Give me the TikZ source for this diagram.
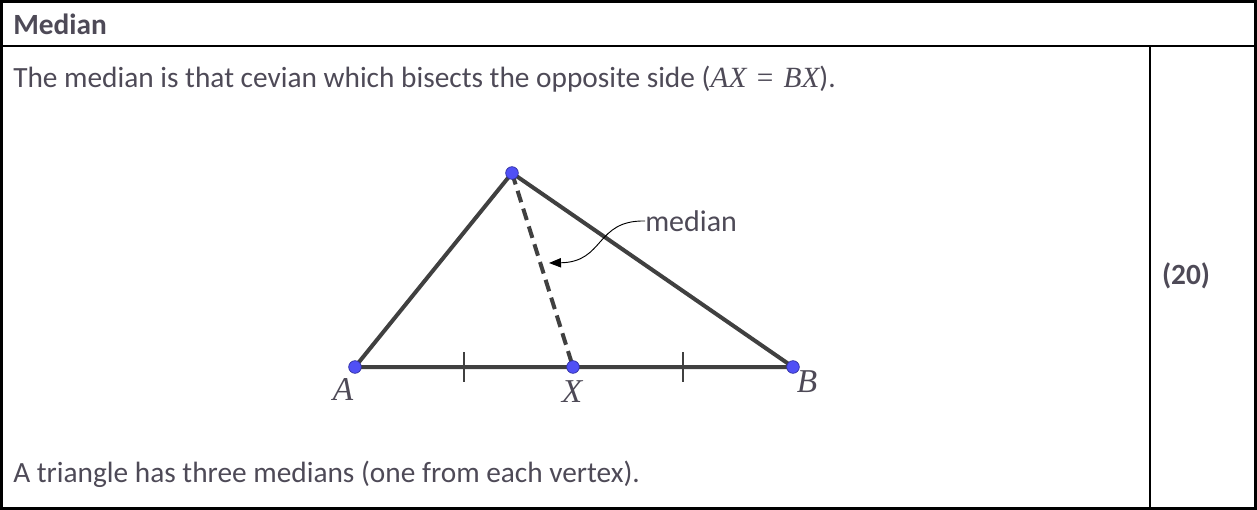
\documentclass[tikz,border=0pt]{standalone}
\usepackage{fontspec}
\setmainfont{Carlito}
\newfontfamily\mserif{Liberation Serif}
\usetikzlibrary{calc,arrows.meta}
\definecolor{txt}{HTML}{4E4A57}
\definecolor{seg}{HTML}{404040}
\definecolor{dotc}{HTML}{5050F5}
\definecolor{dotb}{HTML}{3030A0}
\newcommand{\mv}[1]{{\mserif\itshape #1}}
\begin{document}
\begin{tikzpicture}[x=0.75pt,y=-0.75pt,
  rule/.style={line width=1.9pt,black},
  body/.style={anchor=west,inner sep=0pt,text=txt,font=\fontsize{22}{26}\selectfont},
  side/.style={line width=3pt,seg},
  tick/.style={line width=1.5pt,seg},
  dot/.style={circle,fill=dotc,draw=dotb,line width=0.5pt,inner sep=0pt,minimum size=9.5pt},
  lab/.style={text=txt,inner sep=0pt,font=\fontsize{25}{28}\selectfont\mserif\itshape}]
\useasboundingbox (0,0) rectangle (1257,510);
% table
\draw[rule] (1.5,1.5) rectangle (1255.5,508.5);
\draw[rule] (1.5,46) -- (1255.5,46);
\draw[rule] (1150,46) -- (1150,508.5);
\node[body,font=\fontsize{22}{26}\selectfont\bfseries] (title) at (13,24) {Median};
\node[body] (line1) at (13,79) {The median is that cevian which bisects the opposite side (\mv{AX}\hspace{0.35em}{\mserif=}\hspace{0.35em}\mv{BX}).};
\node[body] (line2) at (13,474) {A triangle has three medians (one from each vertex).};
\node[inner sep=0pt,text=txt,font=\fontsize{22}{26}\selectfont\bfseries] (num) at (1186,276) {(20)};
% triangle
\coordinate (A) at (355,367);
\coordinate (B) at (793,367);
\coordinate (C) at (512,173);
\coordinate (X) at (573,367);
\draw[side,line join=round] (B) -- (A) -- (C) -- (B);
\draw[side,dash pattern=on 9pt off 5pt] (C) -- (X);
\foreach \p/\q [count=\i] in {A/X,X/B}{
  \coordinate (m\i) at ($(\p)!0.5!(\q)$);
  \draw[tick] ($(m\i)+(0,-15)$) -- ($(m\i)+(0,15)$);
}
\node[dot] (dA) at (A) {};
\node[dot] (dB) at (B) {};
\node[dot] (dC) at (C) {};
\node[dot] (dX) at (X) {};
\node[lab] (lA) at (343,389) {A};
\node[lab] (lX) at (572,392) {X};
\node[lab] (lB) at (807,382) {B};
% median label
\node[body,font=\fontsize{22.5}{26}\selectfont] (med) at (645,221) {median};
\coordinate (tip) at (549,263);
\draw[line width=0.7pt,black,-{Triangle[length=9pt,width=7pt]}] (med.west) .. controls (595,220) and (605,262) .. (tip);
\end{tikzpicture}
\end{document}
